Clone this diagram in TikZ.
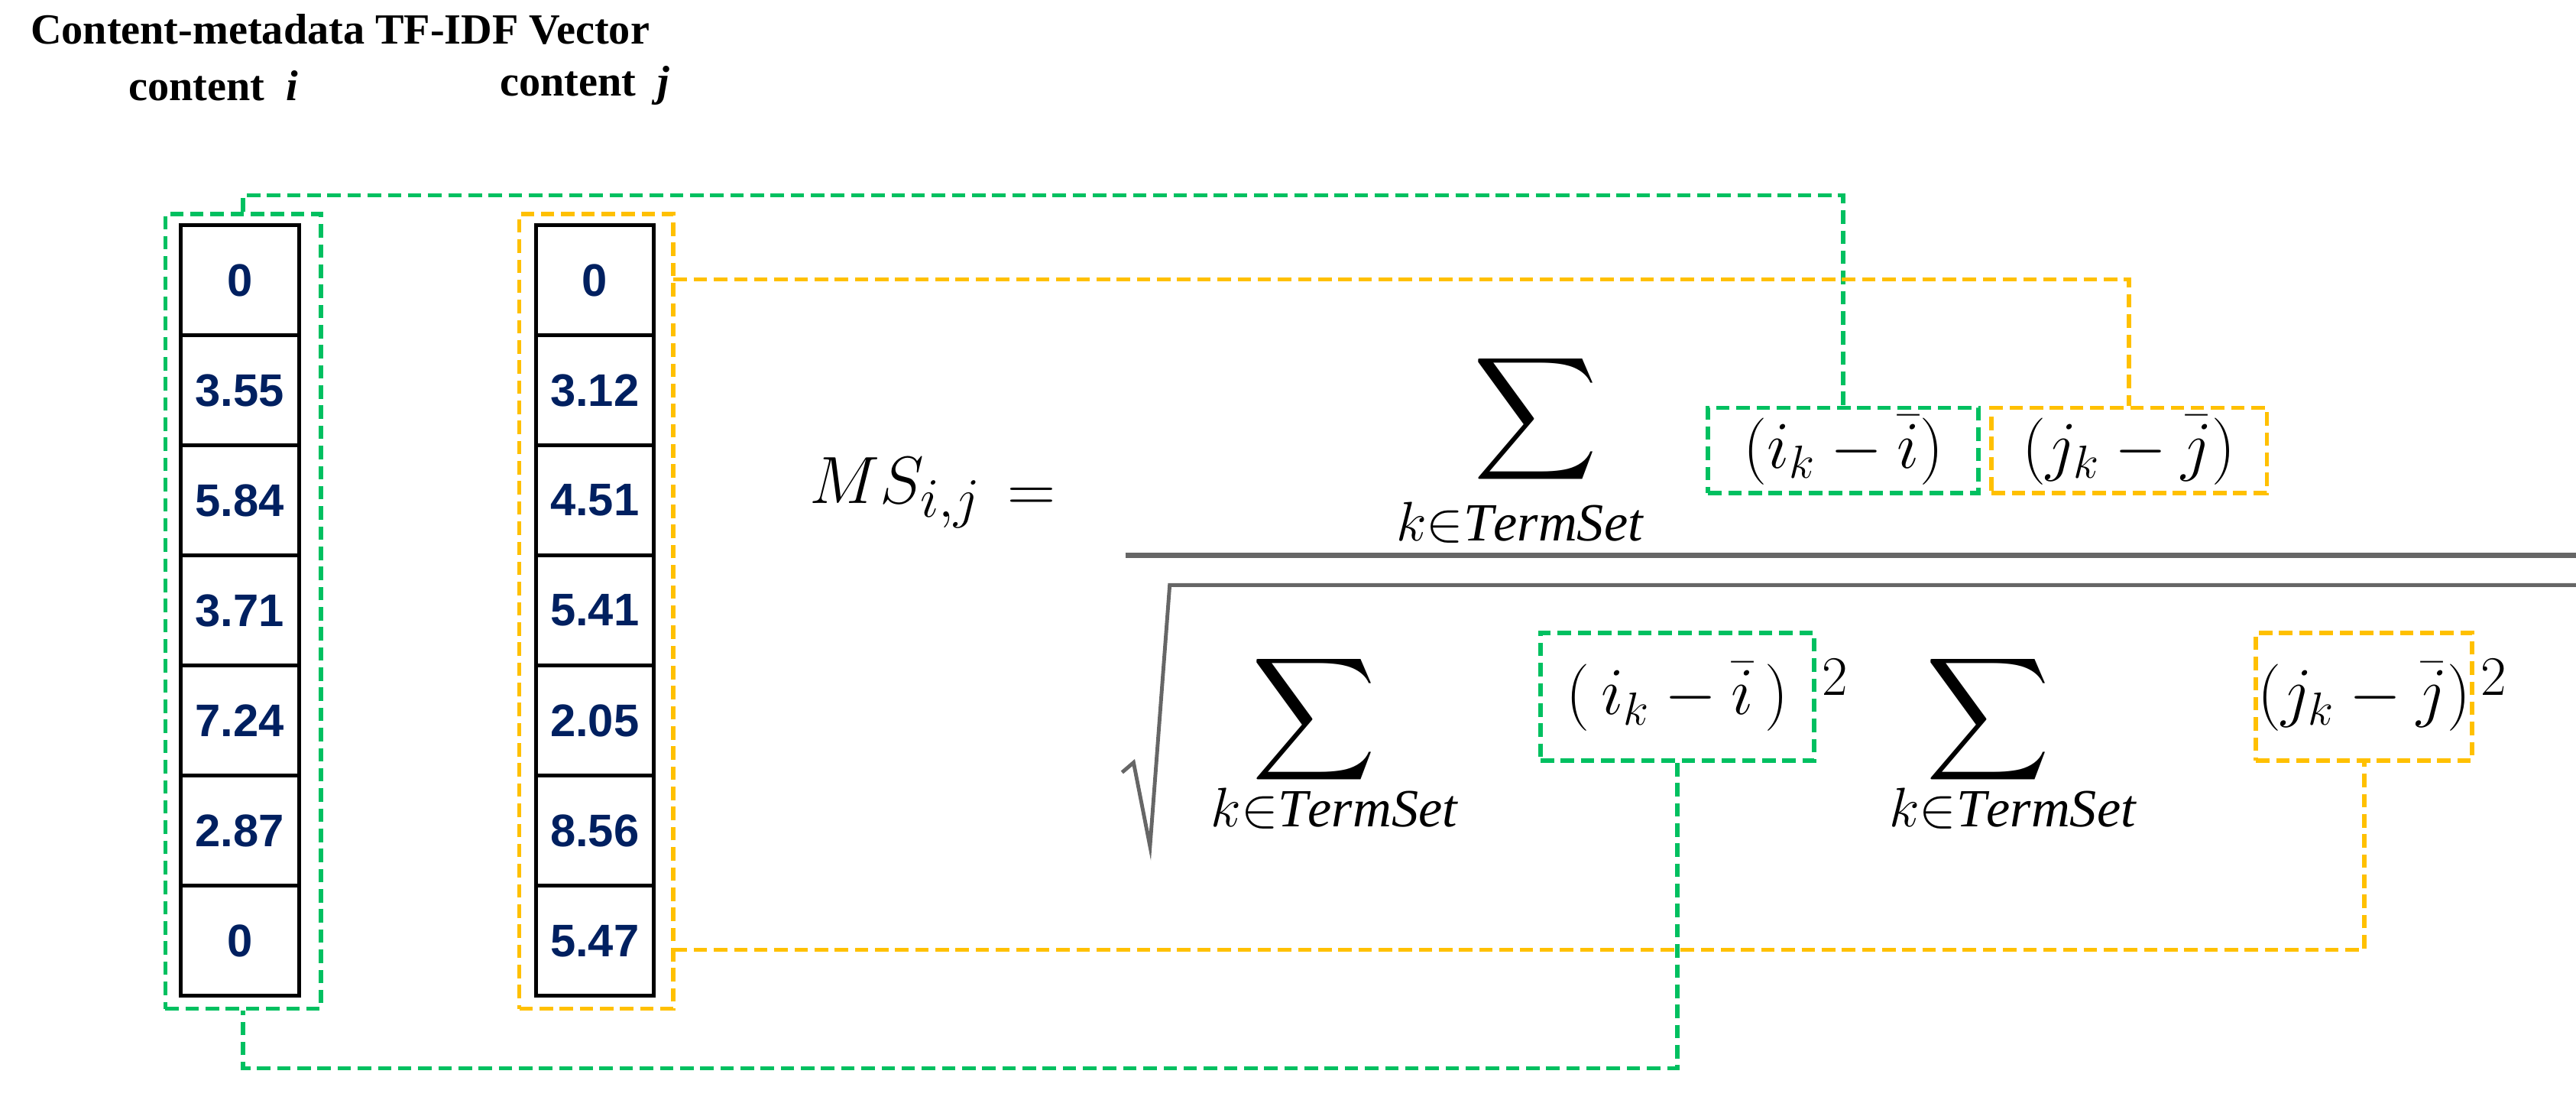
\documentclass[tikz,border=0pt]{standalone}
\usepackage{fontspec}
\usepackage{graphicx}
\setmainfont{Liberation Serif}
\newfontfamily\numfont{Liberation Sans}
\definecolor{vgreen}{RGB}{0,192,96}
\definecolor{vyellow}{RGB}{255,192,0}
\definecolor{vnavy}{RGB}{0,32,96}
\newcommand{\bigsum}{\scalebox{3.2}{$\displaystyle\sum$}}
\tikzset{
  cell/.style={draw, line width=1.4pt, minimum width=72*0.61pt, minimum height=67*0.61pt,
    font=\numfont\bfseries\fontsize{17}{20}\selectfont, text=vnavy, inner sep=0pt},
  gline/.style={vgreen, line width=1.6pt, dash pattern=on 5pt off 2.5pt},
  yline/.style={vyellow, line width=1.6pt, dash pattern=on 5pt off 2.5pt},
  fbox/.style={inner sep=0pt, font=\fontsize{23}{28}\selectfont},
  sub/.style={font=\fontsize{20}{24}\selectfont},
  ttl/.style={font=\bfseries\fontsize{16}{19}\selectfont}
}
\begin{document}
\begin{tikzpicture}[x=0.0215cm, y=-0.0215cm]
				%frame
				\useasboundingbox (0,0) rectangle (1568,677);
				%titles
				\node[ttl] (title) at (207,18) {Content-metadata TF-IDF Vector};
				\node[ttl] (ci) at (130,52) {content~~\textit{i}};
				\node[ttl] (cj) at (356,52) {content~~\textit{j}};
				%vectors
				\foreach \v [count=\n from 0] in {0,3.55,5.84,3.71,7.24,2.87,0}
					\node[cell] (i\n) at (146,{137+67*(\n+0.5)}) {\v};
				\foreach \v [count=\n from 0] in {0,3.12,4.51,5.41,2.05,8.56,5.47}
					\node[cell] (j\n) at (362,{137+67*(\n+0.5)}) {\v};
				\node[gline, draw, minimum width=95*0.61pt, minimum height=485*0.61pt] (gvec) at (148,372) {};
				\node[yline, draw, minimum width=94*0.61pt, minimum height=485*0.61pt] (yvec) at (363,372) {};
				%formula
				\node[font=\fontsize{30}{36}\selectfont] (ms) at (545,300) {$MS_{i,j}$};
				\node[font=\fontsize{28}{34}\selectfont] (eq) at (628,304) {$=$};
				\node (nsum) at (935,255) {\bigsum};
				\node[sub] (nsub) at (925,318) {$k{\in}\mathit{TermSet}$};
				\node[fbox, gline, draw, text=black, minimum width=165*0.61pt, minimum height=52*0.61pt] (gnum) at (1122,274) {$(i_k-\bar{i})$};
				\node[fbox, yline, draw, text=black, minimum width=168*0.61pt, minimum height=52*0.61pt] (ynum) at (1296,274) {$(j_k-\bar{j})$};
				\draw[gray!80!black, line width=2pt] (685,338) -- (1568,338);
				\draw[gray!80!black, line width=1.4pt] (683,470) -- (690,464) -- (700,515) -- (712,356) -- (1568,356);
				\node (dsum1) at (800,438) {\bigsum};
				\node[sub] (dsub1) at (812,492) {$k{\in}\mathit{TermSet}$};
				\node (dsum2) at (1210,438) {\bigsum};
				\node[sub] (dsub2) at (1225,492) {$k{\in}\mathit{TermSet}$};
				\node[fbox, gline, draw, text=black, minimum width=167*0.61pt, minimum height=78*0.61pt] (gden) at (1021,424) {$(\,i_k-\bar{i}\,)$};
				\node[fbox, yline, draw, text=black, minimum width=132*0.61pt, minimum height=78*0.61pt] (yden) at (1439,424) {$(j_k-\bar{j})$};
				\node[sub] (gsq) at (1117,412) {$2$};
				\node[sub] (ysq) at (1518,412) {$2$};
				%connectors
				\coordinate (ytop) at (410,170);
				\coordinate (gbot) at (148,650);
				\coordinate (ybot) at (410,578);
				\draw[gline] (gvec.north) -- ++(0,-10) -| (gnum.north);
				\draw[yline] (ytop) -| (ynum.north);
				\draw[gline] (gden.south) |- (gbot) -- (gvec.south);
				\draw[yline] (ybot) -| (yden.south);
			\end{tikzpicture}
\end{document}
